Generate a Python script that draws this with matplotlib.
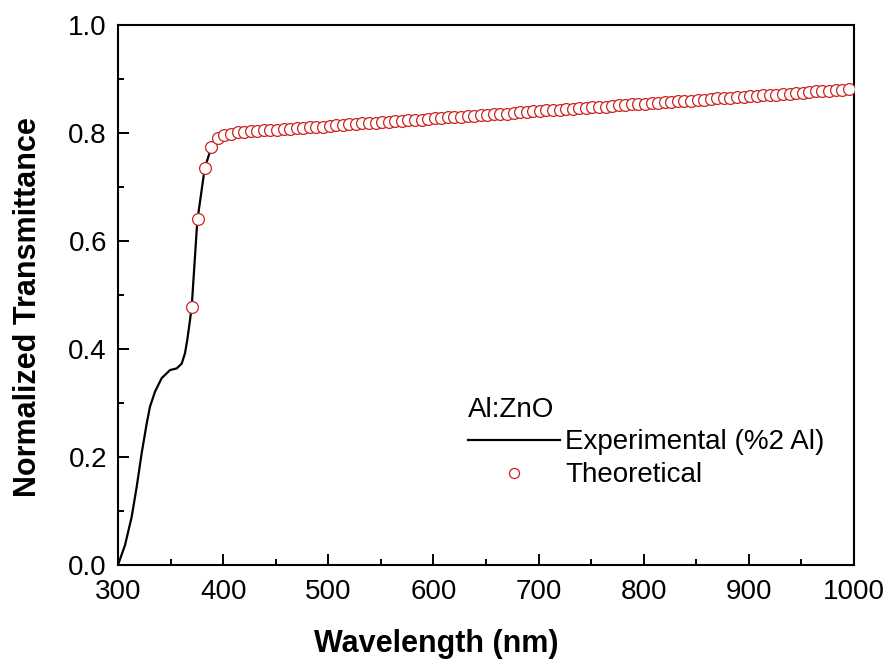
import numpy as np
import matplotlib
matplotlib.use("Agg")
import matplotlib.pyplot as plt

# experimental curve
exp_wl = [300, 306.7, 313, 317.8, 322.5, 327.3, 330.4, 335.2, 341.5, 349.5,
          355.8, 360.6, 363.7, 365.9, 368.5, 370.1, 375.4, 382.5, 389, 394,
          400, 410, 420, 450, 500, 600, 700, 800, 900, 1000]
exp_t = [0.0, 0.037, 0.089, 0.145, 0.207, 0.262, 0.293, 0.321, 0.346, 0.361,
         0.364, 0.373, 0.392, 0.417, 0.454, 0.478, 0.637, 0.735, 0.775, 0.789,
         0.796, 0.800, 0.802, 0.806, 0.813, 0.827, 0.840, 0.854, 0.868, 0.882]

# theoretical points, one every 6.25 nm from 370 nm
theo_wl = np.arange(370, 995.1, 6.25)
theo_t = [0.478, 0.640, 0.735, 0.774, 0.790, 0.796, 0.799, 0.801, 0.802,
          0.803, 0.804, 0.805, 0.806, 0.806, 0.807, 0.808, 0.809, 0.810, 0.811,
          0.812, 0.812, 0.813, 0.814, 0.815, 0.816, 0.817, 0.818, 0.818, 0.819,
          0.820, 0.821, 0.822, 0.823, 0.824, 0.824, 0.825, 0.826, 0.827, 0.828,
          0.829, 0.830, 0.830, 0.831, 0.832, 0.833, 0.834, 0.835, 0.836, 0.836,
          0.837, 0.838, 0.839, 0.840, 0.841, 0.842, 0.842, 0.843, 0.844, 0.845,
          0.846, 0.847, 0.848, 0.848, 0.849, 0.850, 0.851, 0.852, 0.853, 0.854,
          0.854, 0.855, 0.856, 0.857, 0.858, 0.859, 0.860, 0.860, 0.861, 0.862,
          0.863, 0.864, 0.865, 0.865, 0.866, 0.867, 0.868, 0.869, 0.870, 0.871,
          0.871, 0.872, 0.873, 0.874, 0.875, 0.876, 0.877, 0.877, 0.878, 0.879,
          0.880, 0.881]

plt.rcParams['font.family'] = ['Liberation Sans', 'DejaVu Sans']

fig = plt.figure(figsize=(8.92, 6.66), dpi=100)
ax = fig.add_axes([118 / 892, 1 - 565 / 666, 736 / 892, 540 / 666])

red = '#cc2222'
ax.plot(exp_wl, exp_t, color='black', lw=1.6, label='Experimental (%2 Al)', zorder=2)
ax.plot(theo_wl, theo_t, ls='none', marker='o', ms=8.5, mfc='white', mec=red,
        mew=0.9, label='Theoretical', zorder=3)

ax.set_xlim(300, 1000)
ax.set_ylim(0, 1.0)
ax.set_xticks(np.arange(300, 1001, 100))
ax.set_xticks(np.arange(350, 1000, 100), minor=True)
ax.set_yticks(np.arange(0, 1.01, 0.2))
ax.set_yticks(np.arange(0.1, 1.0, 0.2), minor=True)
ax.yaxis.set_major_formatter(matplotlib.ticker.FormatStrFormatter('%.1f'))

for s in ax.spines.values():
    s.set_linewidth(1.5)
ax.tick_params(which='major', direction='in', length=8, width=1.4,
               labelsize=20, top=False, right=False)
ax.tick_params(axis='x', which='major', pad=10)
ax.tick_params(axis='y', which='major', pad=8)
ax.tick_params(which='minor', direction='in', length=4.5, width=1.4,
               top=False, right=False)

ax.set_xlabel('Wavelength (nm)', fontsize=22, fontweight='bold')
ax.xaxis.set_label_coords(0.432, -0.118)
ax.set_ylabel('Normalized Transmittance', fontsize=22, fontweight='bold', va='center')
ax.yaxis.set_label_coords(-0.122, 0.478)

leg = ax.legend(title='Al:ZnO', loc='upper left', bbox_to_anchor=(0.4755, 0.312),
                frameon=False, fontsize=20, title_fontsize=20, handlelength=3.3,
                handletextpad=0.2, borderpad=0, borderaxespad=0,
                labelspacing=0.25, alignment='left', markerscale=0.85)

fig.savefig('out.png', dpi=100)
